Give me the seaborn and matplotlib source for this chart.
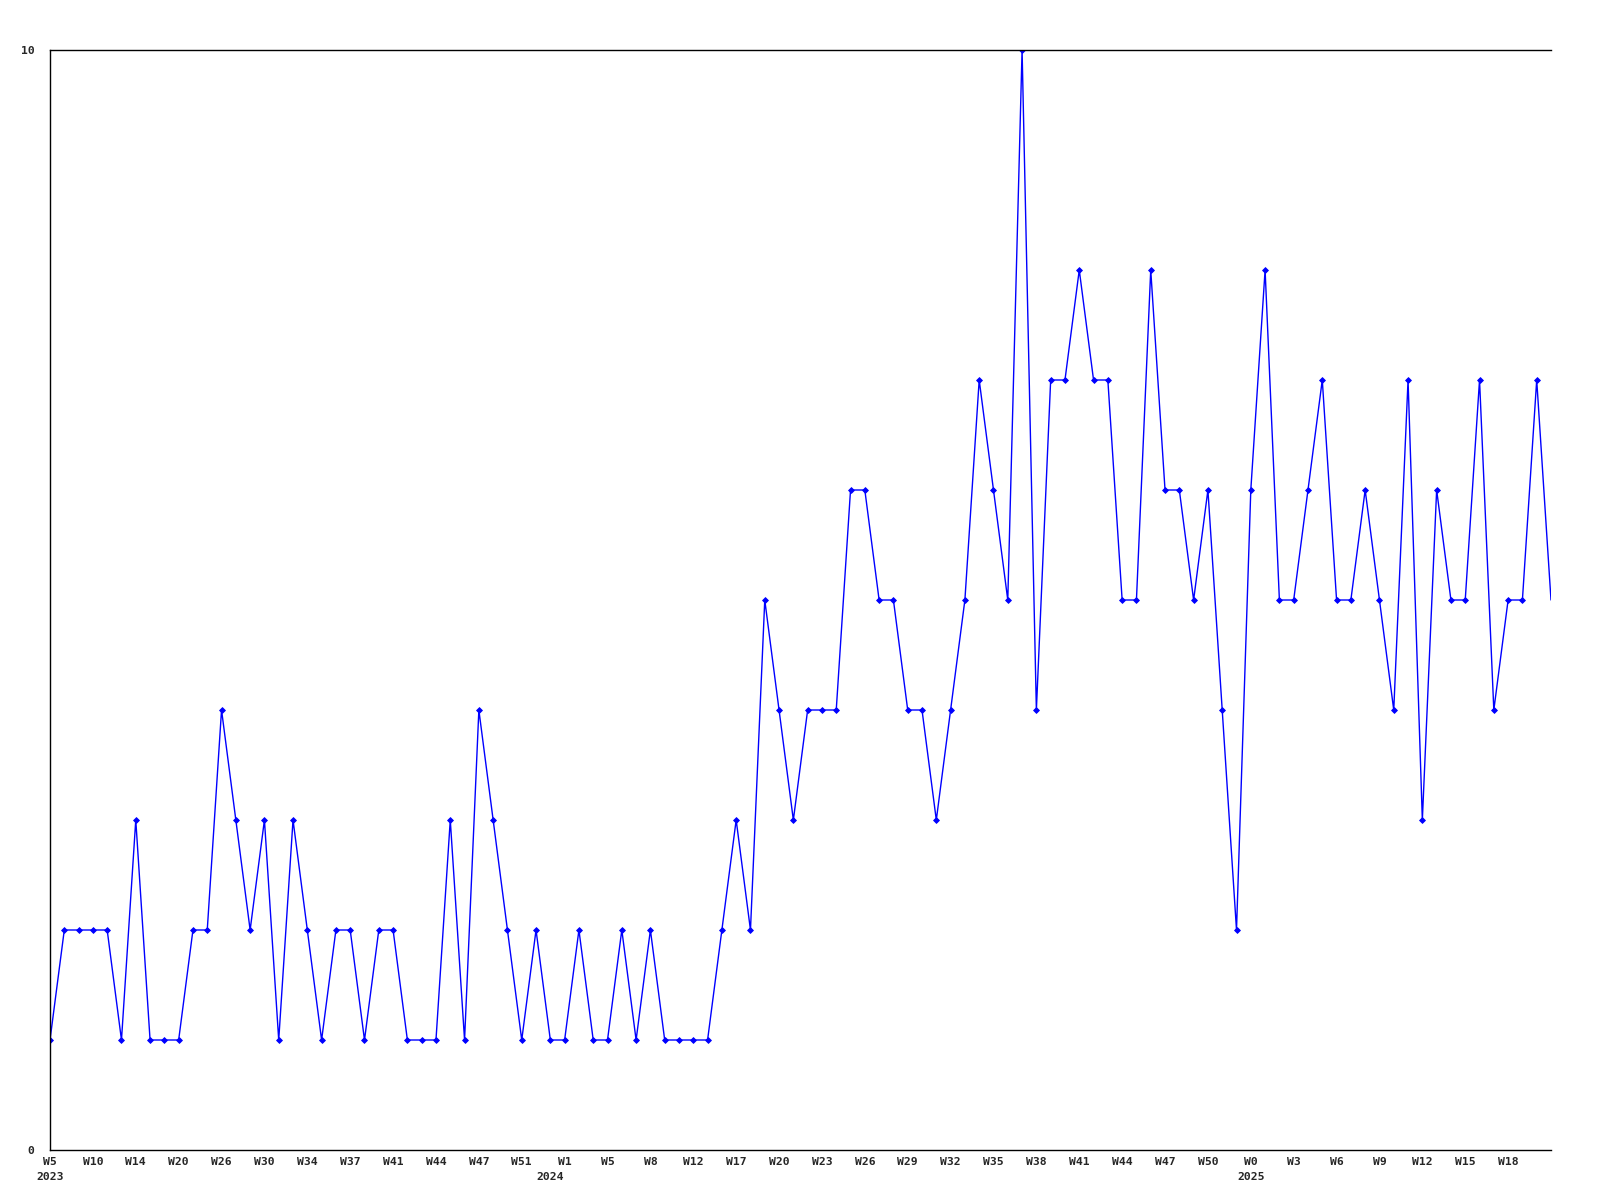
import numpy as np
import pandas as pd
import matplotlib
matplotlib.use("Agg")
import matplotlib.pyplot as plt
import matplotlib.transforms as mtransforms
import seaborn as sns

# Weekly counts, one per category
counts = [
    1, 2, 2, 2, 2, 1, 3, 1, 1, 1, 2, 2, 4, 3, 2, 3, 1, 3, 2, 1,
    2, 2, 1, 2, 2, 1, 1, 1, 3, 1, 4, 3, 2, 1, 2, 1, 1, 2, 1, 1,
    2, 1, 2, 1, 1, 1, 1, 2, 3, 2, 5, 4, 3, 4, 4, 4, 6, 6, 5, 5,
    4, 4, 3, 4, 5, 7, 6, 5, 10, 4, 7, 7, 8, 7, 7, 5, 5, 8, 6, 6,
    5, 6, 4, 2, 6, 8, 5, 5, 6, 7, 5, 5, 6, 5, 4, 7, 3, 6, 5, 5,
    7, 4, 5, 5, 7, 5,
]

# tick labels shown every third category
tick_labels = [
    "W5", "W10", "W14", "W20", "W26", "W30", "W34", "W37", "W41", "W44",
    "W47", "W51", "W1", "W5", "W8", "W12", "W17", "W20", "W23", "W26",
    "W29", "W32", "W35", "W38", "W41", "W44", "W47", "W50", "W0", "W3",
    "W6", "W9", "W12", "W15", "W18",
]
tick_step = 3

# year labels and the category where each year starts
years = ["2023", "2024", "2025"]
year_start = [0, 35, 84]

df = pd.DataFrame({"idx": np.arange(len(counts)), "count": counts})

sns.set_style("white")
plt.rcParams["font.family"] = ["DejaVu Sans Mono"]
FS = 8.2

fig = plt.figure(figsize=(16, 12), dpi=100)
ax = fig.add_axes([50 / 1600, 50 / 1200, 1501 / 1600, 1100 / 1200])

sns.lineplot(data=df, x="idx", y="count", ax=ax, color="#0000ff", lw=1.0,
             marker="D", markersize=3, markeredgewidth=0.6,
             markeredgecolor="#0000ff", markevery=list(range(len(counts) - 1)))

ax.set_xlim(0, len(counts) - 1)
ax.set_ylim(0, 10)
ax.set_xlabel("")
ax.set_ylabel("")

ax.set_yticks([0, 10])
ax.set_yticklabels(["0", "10"], fontsize=FS, fontweight="bold")
ax.set_xticks(np.arange(0, len(counts), tick_step)[:len(tick_labels)])
ax.set_xticklabels(tick_labels, fontsize=FS, fontweight="bold")
ax.tick_params(axis="y", length=0, pad=11)
ax.tick_params(axis="x", length=0, pad=5)

# year line sits ~27 px under the axis
year_tf = ax.get_xaxis_transform() + mtransforms.ScaledTranslation(0, -27 / 100, fig.dpi_scale_trans)
for yr, pos in zip(years, year_start):
    ax.text(pos, 0, yr, ha="center", va="center", fontsize=FS,
            fontweight="bold", transform=year_tf)

for s in ["left", "top", "bottom"]:
    ax.spines[s].set_color("black")
    ax.spines[s].set_linewidth(1.0)
ax.spines["right"].set_visible(False)

fig.savefig("out.png", dpi=100, facecolor="white")
